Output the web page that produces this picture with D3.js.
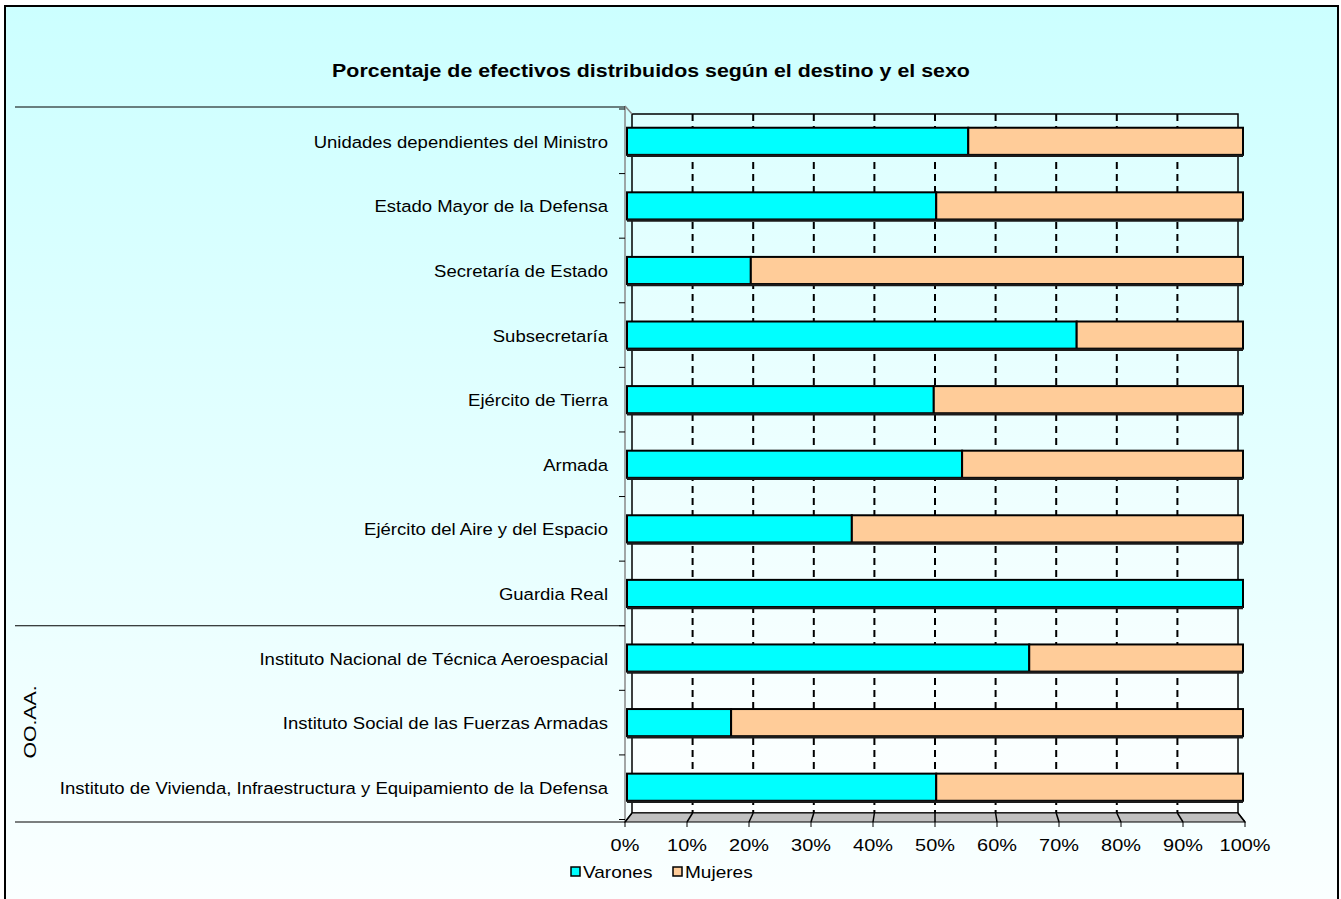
<!DOCTYPE html>
<html><head><meta charset="utf-8">
<script src="https://cdn.jsdelivr.net/npm/d3@7"></script>
<style>body{margin:0;background:#fff}svg{display:block;font-family:Arial,"Liberation Sans",sans-serif}</style>
</head><body>
<script>
const categories = ["Unidades dependientes del Ministro","Estado Mayor de la Defensa","Secretaría de Estado","Subsecretaría","Ejército de Tierra","Armada","Ejército del Aire y del Espacio","Guardia Real","Instituto Nacional de Técnica Aeroespacial","Instituto Social de las Fuerzas Armadas","Instituto de Vivienda, Infraestructura y Equipamiento de la Defensa"];
const varones = [55.4, 50.2, 20.1, 73.0, 49.8, 54.4, 36.5, 100, 65.3, 16.9, 50.2];
const mujeres = [44.6, 49.8, 79.9, 27.0, 50.2, 45.6, 63.5, 0, 34.7, 83.1, 49.8];
const seriesNames = ["Varones","Mujeres"];
const seriesColors = ["#00ffff","#ffcc99"];
const ticks = [0,10,20,30,40,50,60,70,80,90,100];
const groupLabel = "OO.AA.";
const title = "Porcentaje de efectivos distribuidos según el destino y el sexo";

const W=1341,H=899;
const svg=d3.select("body").append("svg").attr("width",W).attr("height",H);
const defs=svg.append("defs");
const bg=defs.append("linearGradient").attr("id","bg").attr("x1",0).attr("y1",0).attr("x2",0).attr("y2",1);
bg.append("stop").attr("offset",0).attr("stop-color","#ccffff");
bg.append("stop").attr("offset",1).attr("stop-color","#fbffff");
const wg=defs.append("linearGradient").attr("id","wall").attr("x1",0).attr("y1",0).attr("x2",0).attr("y2",1);
wg.append("stop").attr("offset",0).attr("stop-color","#ddffff");
wg.append("stop").attr("offset",1).attr("stop-color","#fdffff");

svg.append("rect").attr("x",5).attr("y",6).attr("width",1333).attr("height",910)
  .attr("fill","url(#bg)").attr("stroke","#000").attr("stroke-width",2);

// helper: horizontally stretched text
function stext(g,x,y,str,size,sx,anchor,weight){
  return g.append("text").attr("transform",`translate(${x},${y}) scale(${sx},1)`)
    .attr("text-anchor",anchor||"start").attr("font-size",size).attr("font-weight",weight||"normal").text(str);
}

stext(svg,651,77,title,19,1.125,"middle","bold");

// scales
const xFront=d3.scaleLinear().domain([0,100]).range([625,1245]);
const xBack=d3.scaleLinear().domain([0,100]).range([632,1238]);
const xBar=d3.scaleLinear().domain([0,100]).range([627,1243]);
const yBand=d3.scaleBand().domain(categories).range([109,819.5]).paddingInner(0.58).paddingOuter(0.29);
const yCat=d3.scaleBand().domain(categories).range([109,819.5]);
const backTop=114, backBot=813, frontTop=106, frontBot=822;

// back wall
svg.append("rect").attr("x",xBack(0)).attr("y",backTop).attr("width",xBack(100)-xBack(0)).attr("height",backBot-backTop)
  .attr("fill","url(#wall)").attr("stroke","#000").attr("stroke-width",1.5);
// floor
svg.append("path").attr("d",`M${xFront(0)},${frontBot}L${xBack(0)},${backBot}L${xBack(100)},${backBot}L${xFront(100)},${frontBot}Z`)
  .attr("fill","#c0c0c0").attr("stroke","#000").attr("stroke-width",1.2);
// left side wall edge
svg.append("path").attr("d",`M${xFront(0)},${frontTop}L${xBack(0)},${backTop}`).attr("stroke","#888").attr("stroke-width",1.5).attr("fill","none");
svg.append("line").attr("x1",xFront(0)).attr("x2",xFront(0)).attr("y1",frontTop).attr("y2",frontBot).attr("stroke","#888").attr("stroke-width",1.5);

// gridlines
const inner=ticks.filter(t=>t>0&&t<100);
svg.append("g").selectAll("line").data(inner).join("line")
  .attr("x1",d=>xBack(d)).attr("x2",d=>xBack(d)).attr("y1",backTop).attr("y2",backBot)
  .attr("stroke","#000").attr("stroke-width",2).attr("stroke-dasharray","7,5");
svg.append("g").selectAll("path").data(ticks).join("path")
  .attr("d",d=>`M${xBack(d)},${backBot}L${xFront(d)},${frontBot}`)
  .attr("stroke","#000").attr("stroke-width",1.5).attr("fill","none");
// x ticks
svg.append("g").selectAll("line").data(ticks).join("line")
  .attr("x1",d=>xFront(d)).attr("x2",d=>xFront(d)).attr("y1",frontBot).attr("y2",frontBot+5).attr("stroke","#000");
const xt=svg.append("g");
ticks.forEach(d=>stext(xt,xFront(d),851,d+"%",17,1.17,"middle"));

// category ticks
svg.append("g").selectAll("line").data(d3.range(categories.length+1)).join("line")
  .attr("x1",619).attr("x2",xFront(0)).attr("y1",i=>109+i*yCat.step()).attr("y2",i=>109+i*yCat.step())
  .attr("stroke","#000").attr("stroke-width",1);

// bars
const stacked=categories.map((c,i)=>[{c,s:0,x0:0,x1:varones[i]},{c,s:1,x0:varones[i],x1:varones[i]+mujeres[i]}]).flat().filter(d=>d.x1>d.x0);
const bars=svg.append("g");
bars.selectAll("rect").data(stacked).join("rect")
  .attr("x",d=>xBar(d.x0)).attr("y",d=>yBand(d.c)).attr("width",d=>xBar(d.x1)-xBar(d.x0)).attr("height",yBand.bandwidth())
  .attr("fill",d=>seriesColors[d.s]).attr("stroke","#000").attr("stroke-width",2);
bars.selectAll("line.sh").data(categories).join("line").attr("class","sh")
  .attr("x1",xBar(0)).attr("x2",xBar(100)).attr("y1",d=>yBand(d)+yBand.bandwidth()+1).attr("y2",d=>yBand(d)+yBand.bandwidth()+1)
  .attr("stroke","#1a1a1a").attr("stroke-width",2.5);

// category labels
const cl=svg.append("g");
categories.forEach(c=>stext(cl,608,yCat(c)+yCat.bandwidth()/2+6.5,c,17,1.09,"end"));

// group lines
[107, 109+8*yCat.step(), frontBot].forEach(y=>{
  svg.append("line").attr("x1",15).attr("x2",xFront(0)).attr("y1",y).attr("y2",y).attr("stroke","#000").attr("stroke-width",1.2);
});
svg.append("text").attr("transform","translate(36,722) rotate(-90) scale(1.25,1)").attr("text-anchor","middle")
  .attr("font-size",17).text(groupLabel);

// legend
const lg=svg.append("g").attr("transform","translate(571,872)");
const items=lg.selectAll("g").data(seriesNames).join("g").attr("transform",(d,i)=>`translate(${i*102},0)`);
items.append("rect").attr("x",0).attr("y",-5).attr("width",9).attr("height",9).attr("fill",(d,i)=>seriesColors[i]).attr("stroke","#000").attr("stroke-width",1.5);
items.each(function(d){ stext(d3.select(this),12,6,d,17,1.12,"start"); });
</script>
</body></html>
